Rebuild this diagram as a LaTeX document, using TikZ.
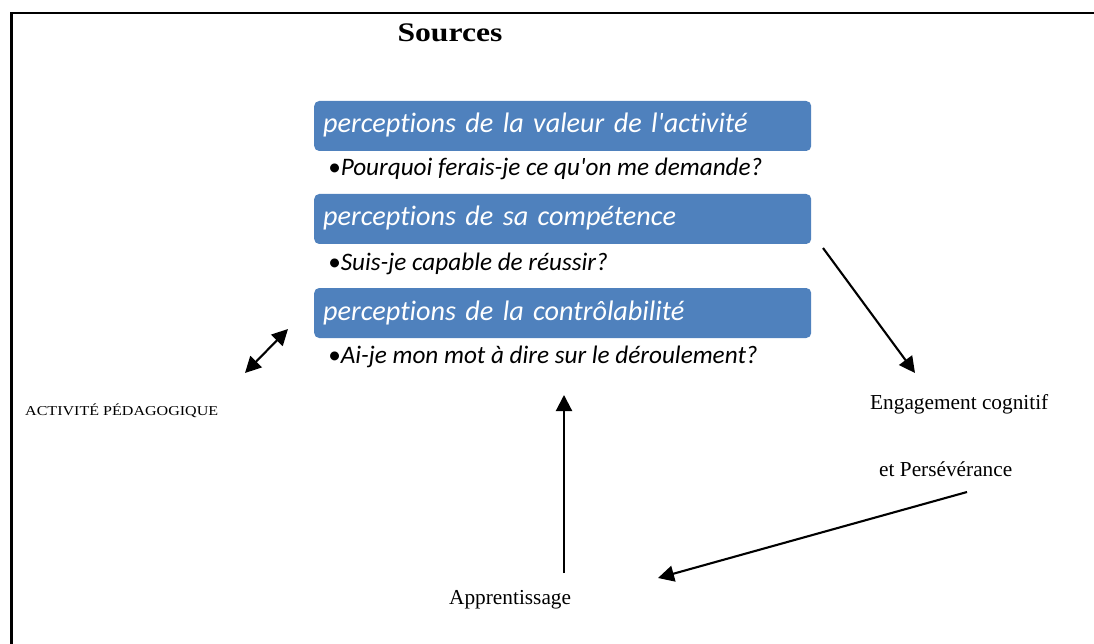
\documentclass[tikz,border=0pt]{standalone}
\usepackage{fontspec}
\setmainfont{Liberation Serif}
\newfontfamily\calibri[Ligatures={TeXOff,NoCommon}]{Carlito}
\newfontfamily\widerm[FakeStretch=1.18]{Liberation Serif}
\usetikzlibrary{arrows.meta}
\definecolor{boxblue}{HTML}{4F81BD}
\tikzset{
	percbox/.style={fill=boxblue, rounded corners=5pt, text=white, anchor=west,
		minimum height=50pt, text width=479pt, inner xsep=9pt, align=left,
		text height=20pt, text depth=6pt, font=\calibri\itshape\fontsize{28.2}{34}\selectfont},
	question/.style={anchor=base west, inner sep=0pt, font=\calibri\itshape\fontsize{25.2}{30}\selectfont},
	txtlabel/.style={anchor=base west, inner sep=0pt, font=\fontsize{21.3}{25}\selectfont},
	arr/.style={line width=2.1pt, >={Triangle[length=16pt,width=16pt]}}
}

\begin{document}
\begin{tikzpicture}[x=1pt,y=-1pt]
	\useasboundingbox (0,0) rectangle (1094,644);
	
	%frame
	\draw[line width=2.7pt] (11.5,644)--(11.5,13)--(1094,13);
	
	%title
	\node[anchor=base, inner sep=0pt, font=\widerm\bfseries\fontsize{26.8}{32}\selectfont] (sources) at (450,41.7) {Sources};
	
	%boxes
	\node[percbox] (valeur) at (314,126) {perceptions de la valeur de l'activité};
	\node[percbox] (compet) at (314,219) {perceptions de sa compétence};
	\node[percbox] (control) at (314,313) {perceptions de la contrôlabilité};
	
	%questions
	\node[question] (qvaleur) at (328,176) {•Pourquoi ferais-je ce qu'on me demande?};
	\node[question] (qcompet) at (328,270) {•Suis-je capable de réussir?};
	\node[question] (qcontrol) at (328,363.3) {•Ai-je mon mot à dire sur le déroulement?};
	
	%outer labels
	\node[anchor=base west, inner sep=0pt, font=\widerm\fontsize{13.6}{16}\selectfont] (activite) at (25,415) {ACTIVITÉ PÉDAGOGIQUE};
	\node[txtlabel] (engage) at (870,409.3) {Engagement cognitif};
	\node[txtlabel] (perse) at (879,476.7) {et Persévérance};
	\node[txtlabel] (appr) at (449,604) {Apprentissage};
	
	%arrow ends
	\coordinate (actA) at (245,373);
	\coordinate (actB) at (288,329);
	\coordinate (compC) at (823,248);
	\coordinate (engC) at (915,373);
	\coordinate (perseC) at (967,492);
	\coordinate (apprR) at (658,578);
	\coordinate (apprC) at (564,573);
	\coordinate (controlC) at (564,395);
	
	%arrows
	\draw[arr,<->] (actA)--(actB);
	\draw[arr,->] (compC)--(engC);
	\draw[arr,->] (perseC)--(apprR);
	\draw[arr,->] (apprC)--(controlC);
\end{tikzpicture}
\end{document}
